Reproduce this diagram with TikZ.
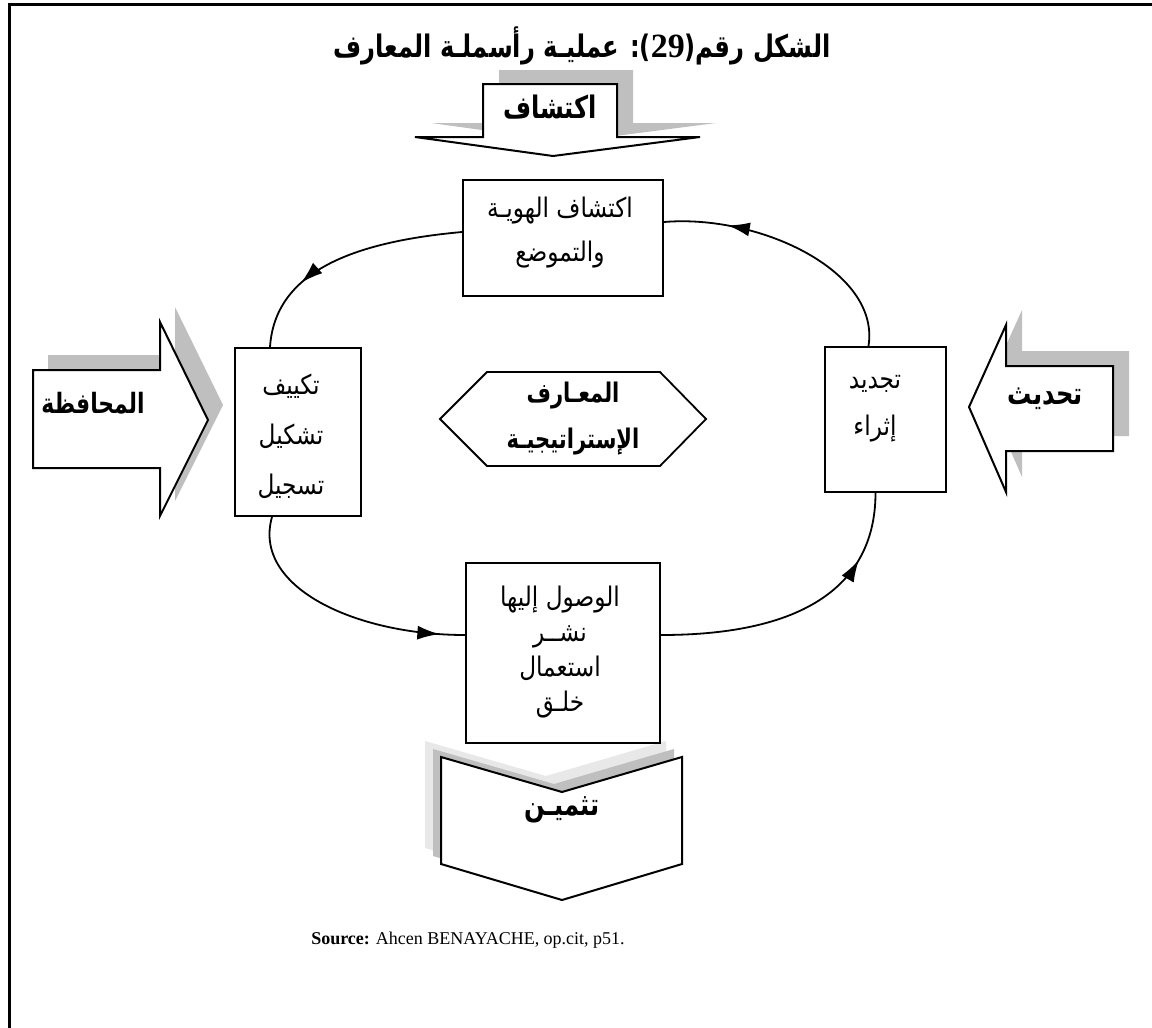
\documentclass[tikz,border=0pt]{standalone}
\usepackage{fontspec}
\setmainfont{Liberation Serif}
\newfontfamily\arabicfont[Script=Arabic,FakeStretch=0.78]{DejaVu Sans}
\newfontfamily\arabicplain[Script=Arabic,FakeStretch=0.86]{DejaVu Sans}
\newfontfamily\digitfont{Liberation Serif}
\TeXXeTstate=1
\usetikzlibrary{decorations.markings,arrows.meta}
\newcommand\artxt[1]{{\arabicfont\beginR #1\endR}}
\newcommand\arplain[1]{{\arabicplain\beginR #1\endR}}

\begin{document}
\begin{tikzpicture}[x=1pt,y=-1pt,
  box/.style={draw,line width=2pt,fill=white,inner sep=0pt},
  blockarrow/.style={draw,line width=2pt,fill=white,line join=miter},
  shadowgray/.style={fill=black!25,draw=none},
  shadowlight/.style={fill=black!9,draw=none},
  link/.style={line width=1.8pt},
  arrowat/.style={postaction={decorate},decoration={markings,
      mark=at position #1 with {\arrow{Latex[length=22pt,width=14pt]}}}},
  boxtext/.style={font=\fontsize{27}{44}\selectfont,align=center,inner sep=0pt},
  boldlabel/.style={font=\fontsize{31}{34}\selectfont\bfseries,inner sep=0pt},
]
\useasboundingbox (0,0) rectangle (1152,1028);

% outer frame
\draw[line width=3pt] (9,1040) -- (9,4) -- (1160,4);

% title
\node[font=\fontsize{31}{36}\selectfont\bfseries,inner sep=0pt] (title) at (582,46)
  {\artxt{الشكل رقم({\digitfont\bfseries\fontsize{34}{36}\selectfont 29}): عمليـة رأسملـة المعارف}};

% ---- top block arrow (discovery) ----
\fill[shadowgray,shift={(16,-14)}] (483,84) -- (617,84) -- (617,137) -- (700,137)
  -- (553,156) -- (415,137) -- (483,137) -- cycle;
\draw[blockarrow] (483,84) -- (617,84) -- (617,137) -- (700,137)
  -- (553,156) -- (415,137) -- (483,137) -- cycle;
\node[boldlabel] (discover) at (550,107) {\artxt{اكتشاف}};

% ---- left block arrow (preservation) ----
\fill[shadowgray,shift={(15,-15)}] (33,370) -- (160,370) -- (160,322) -- (208,420)
  -- (160,516) -- (160,468) -- (33,468) -- cycle;
\draw[blockarrow] (33,370) -- (160,370) -- (160,322) -- (208,420)
  -- (160,516) -- (160,468) -- (33,468) -- cycle;
\node[boldlabel,font=\fontsize{28}{32}\selectfont\bfseries] (preserve) at (93,403) {\artxt{المحافظة}};

% ---- right block arrow (updating) ----
\fill[shadowgray,shift={(16,-15)}] (1113,366) -- (1006,366) -- (1006,325) -- (969,407)
  -- (1006,492) -- (1006,451) -- (1113,451) -- cycle;
\draw[blockarrow] (1113,366) -- (1006,366) -- (1006,325) -- (969,407)
  -- (1006,492) -- (1006,451) -- (1113,451) -- cycle;
\node[boldlabel] (update) at (1045,399) {\artxt{تحديث}};

% ---- bottom chevron (valuation) ----
\fill[shadowlight,shift={(-16,-16)}] (441,757) -- (562,792) -- (682,757) -- (682,864)
  -- (562,900) -- (441,864) -- cycle;
\fill[shadowgray,shift={(-8,-8)}] (441,757) -- (562,792) -- (682,757) -- (682,864)
  -- (562,900) -- (441,864) -- cycle;
\draw[blockarrow] (441,757) -- (562,792) -- (682,757) -- (682,864)
  -- (562,900) -- (441,864) -- cycle;
\node[boldlabel] (valuate) at (562,810) {\artxt{تثميـن}};

% ---- process boxes ----
\node[box,minimum width=200pt,minimum height=116pt] (tb) at (563,238) {};
\node[boxtext] (tbt) at (560,233) {\arplain{اكتشاف الهويـة}\\\arplain{والتموضع}};

\node[box,minimum width=126pt,minimum height=168pt] (lb) at (298,432) {};
\node[boxtext,font=\fontsize{27}{50}\selectfont] (lbt) at (291,436)
  {\arplain{تكييف}\\\arplain{تشكيل}\\\arplain{تسجيل}};

\node[box,minimum width=121pt,minimum height=145pt] (rb) at (885.5,419.5) {};
\node[boxtext,font=\fontsize{27}{47}\selectfont] (rbt) at (875,409)
  {\arplain{تجديد}\\\arplain{إثراء}};

\node[box,minimum width=194pt,minimum height=180pt] (bb) at (563,653) {};
\node[boxtext,font=\fontsize{27}{35}\selectfont] (bbt) at (560,652)
  {\arplain{الوصول إليها}\\\arplain{نشــر}\\\arplain{استعمال}\\\arplain{خلـق}};

% ---- central hexagon ----
\draw[line width=1.8pt,fill=white] (440,419) -- (487,372) -- (660,372) -- (706,419)
  -- (660,466) -- (487,466) -- cycle;
\node[font=\fontsize{27}{46}\selectfont\bfseries,align=center,inner sep=0pt] (core) at (573,419)
  {\artxt{المعـارف}\\\artxt{الإستراتيجيـة}};

% ---- cycle connectors ----
\draw[link,arrowat=0.7] ([yshift=6pt]tb.west) .. controls +(-110,10) and +(5,-75) .. ([xshift=-28pt]lb.north);
\draw[link,arrowat=0.76] ([xshift=-17pt]rb.north) .. controls +(12,-75) and +(95,-8) .. ([yshift=16pt]tb.east);
\draw[link,arrowat=0.9] ([xshift=-26pt]lb.south) .. controls +(-20,70) and +(-110,0) .. ([yshift=18pt]bb.west);
\draw[link,arrowat=0.76] ([yshift=18pt]bb.east) .. controls +(160,0) and +(0,80) .. ([xshift=-10pt]rb.south);

% source line
\node[font=\fontsize{18}{22}\selectfont,inner sep=0pt] (source) at (468,940)
  {\textbf{Source:} Ahcen BENAYACHE, op.cit, p51.};
\end{tikzpicture}
\end{document}
